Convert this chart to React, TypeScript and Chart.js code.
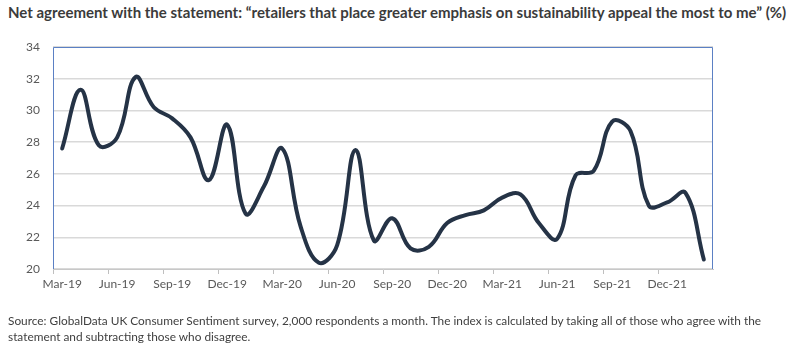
import React, { useEffect, useRef } from "react";
import { Chart, registerables } from "chart.js";
Chart.register(...registerables);

const titleText =
  "Net agreement with the statement: \u201cretailers that place greater emphasis on sustainability appeal the most to me\u201d (%)";
const sourceLines = [
  "Source: GlobalData UK Consumer Sentiment survey, 2,000 respondents a month. The index is calculated by taking all of those who agree with the",
  "statement and subtracting those who disagree.",
];

const months = [
  "Mar-19", "Apr-19", "May-19", "Jun-19", "Jul-19", "Aug-19", "Sep-19", "Oct-19", "Nov-19", "Dec-19", "Jan-20", "Feb-20",
  "Mar-20", "Apr-20", "May-20", "Jun-20", "Jul-20", "Aug-20", "Sep-20", "Oct-20", "Nov-20", "Dec-20", "Jan-21", "Feb-21",
  "Mar-21", "Apr-21", "May-21", "Jun-21", "Jul-21", "Aug-21", "Sep-21", "Oct-21", "Nov-21", "Dec-21", "Jan-22", "Feb-22",
];

const values = [
  27.6, 31.3, 27.8, 28.3, 32.1, 30.2, 29.5, 28.3, 25.6, 29.1, 23.5, 25.2,
  27.6, 22.7, 20.4, 21.5, 27.5, 21.8, 23.2, 21.3, 21.4, 22.9, 23.4, 23.7,
  24.5, 24.7, 22.9, 21.9, 25.9, 26.2, 29.3, 28.7, 24.0, 24.2, 24.8, 20.6,
];

const yMin = 20;
const yMax = 34;
const yStep = 2;

const framePlugin = {
  id: "frame",
  afterDraw(chart: any) {
    const { ctx, chartArea } = chart;
    const { left, right, top, bottom } = chartArea;
    ctx.save();
    ctx.strokeStyle = "#5b80c4";
    ctx.lineWidth = 1;
    ctx.beginPath();
    ctx.moveTo(left + 0.5, bottom);
    ctx.lineTo(left + 0.5, top + 0.5);
    ctx.lineTo(right - 0.5, top + 0.5);
    ctx.lineTo(right - 0.5, bottom);
    ctx.stroke();
    ctx.restore();
  },
};

export default function App() {
  const ref = useRef<HTMLCanvasElement>(null);
  useEffect(() => {
    document.body.style.margin = "0";
    const tickFont = { family: "Lato", size: 12 };
    const chart = new Chart(ref.current!, {
      type: "line",
      data: {
        labels: months,
        datasets: [
          {
            data: values,
            borderColor: "#253346",
            borderWidth: 4,
            tension: 0.4,
            pointRadius: 0,
            fill: false,
            borderCapStyle: "round",
            borderJoinStyle: "round",
          },
        ],
      },
      options: {
        animation: false,
        responsive: false,
        maintainAspectRatio: false,
        layout: { padding: { left: 0, right: 87, top: 47, bottom: 60 } },
        plugins: { legend: { display: false }, tooltip: { enabled: false } },
        scales: {
          x: {
            offset: true,
            grid: {
              offset: true,
              drawOnChartArea: false,
              drawTicks: true,
              tickLength: 5,
              tickColor: (c: any) => (c.index % 3 === 0 ? "#bfbfbf" : "rgba(0,0,0,0)"),
            },
            border: { color: "#c8c8c8", width: 1 },
            ticks: {
              autoSkip: false,
              maxRotation: 0,
              minRotation: 0,
              padding: 3,
              color: "#595959",
              font: tickFont,
              callback: (_v: any, i: number) => (i % 3 === 0 ? months[i] : ""),
            },
            afterFit: (s: any) => {
              s.height = 22;
            },
          },
          y: {
            min: yMin,
            max: yMax,
            ticks: { stepSize: yStep, padding: 13, color: "#595959", font: tickFont },
            grid: { color: "#d9d9d9", lineWidth: 1.5, drawTicks: false },
            border: { display: false },
            afterFit: (s: any) => {
              s.width = 53;
            },
          },
        },
      },
      plugins: [framePlugin],
    } as any);
    return () => chart.destroy();
  }, []);

  return (
    <div style={{ position: "relative", width: 800, height: 351, background: "#fff", overflow: "hidden" }}>
      <div
        style={{
          position: "absolute",
          left: 8,
          top: 3,
          fontFamily: "Lato",
          fontWeight: 700,
          fontSize: 15,
          color: "#3b3b3b",
          whiteSpace: "nowrap",
        }}
      >
        {titleText}
      </div>
      <canvas ref={ref} width={800} height={351} style={{ position: "absolute", left: 0, top: 0 }} />
      <div
        style={{
          position: "absolute",
          left: 8,
          top: 313,
          fontFamily: "Lato",
          fontSize: 11.85,
          lineHeight: "16px",
          color: "#404040",
          whiteSpace: "nowrap",
        }}
      >
        {sourceLines.map((l, i) => (
          <div key={i}>{l}</div>
        ))}
      </div>
    </div>
  );
}
